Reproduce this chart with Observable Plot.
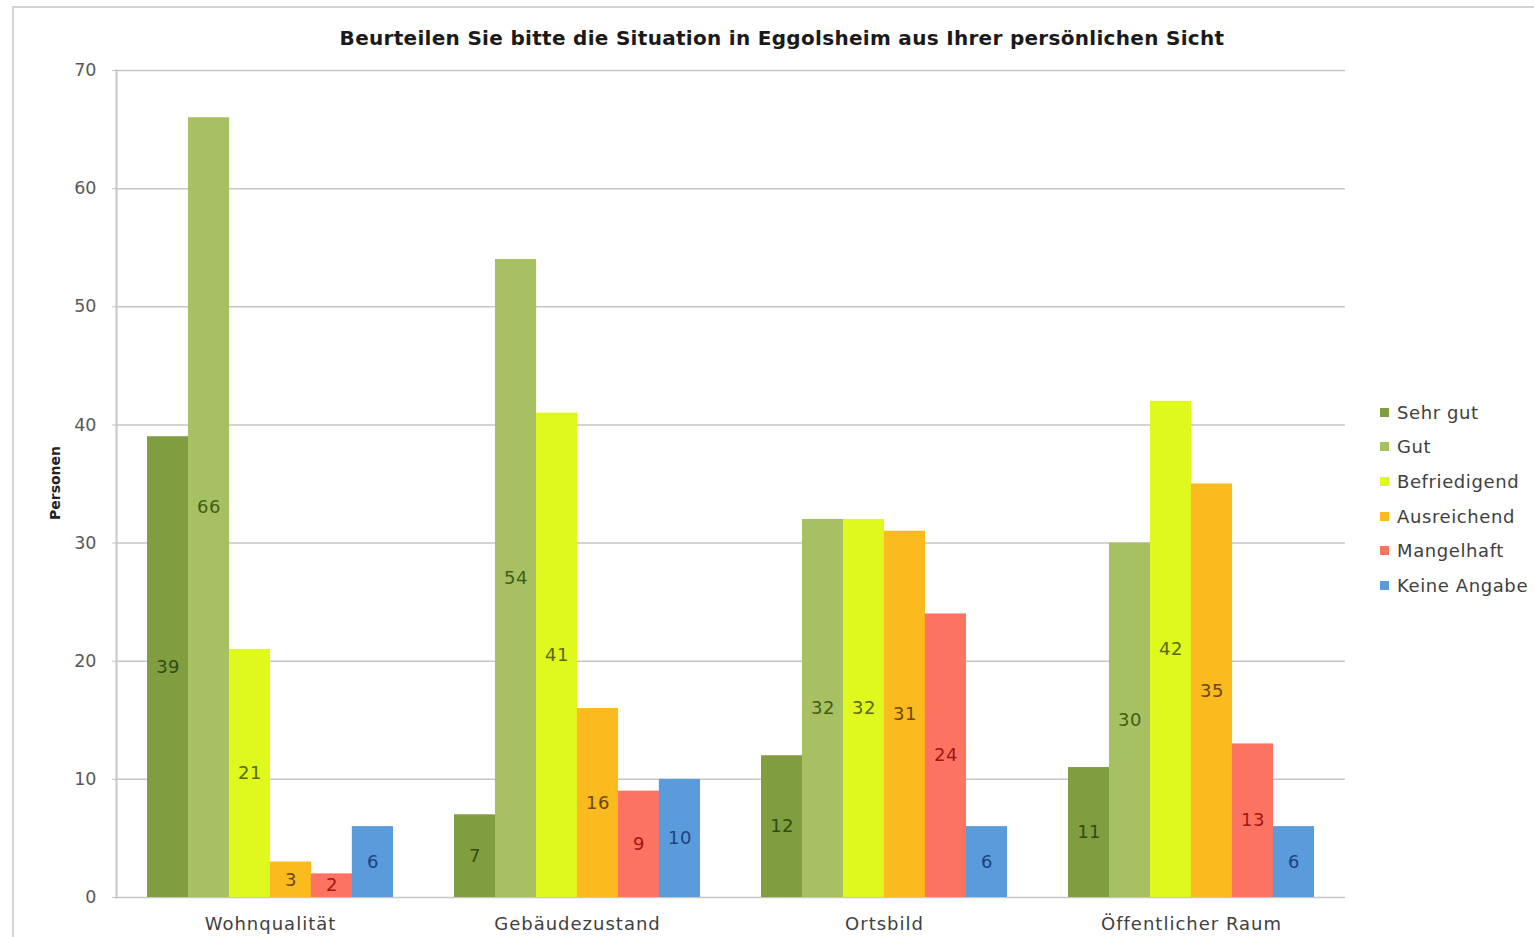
<!DOCTYPE html>
<html>
<head>
<meta charset="utf-8">
<script src="https://cdn.jsdelivr.net/npm/d3@7"></script>
<script src="https://cdn.jsdelivr.net/npm/@observablehq/plot@0.6"></script>
<style>
  html, body { margin: 0; padding: 0; background: #fff; overflow: hidden; }
  #chart { position: relative; width: 1534px; height: 937px; font-family: "DejaVu Sans", sans-serif; }
  #border { position: absolute; left: 12px; top: 6px; width: 1600px; height: 1000px; border: 2px solid #d4d4d4; box-sizing: border-box; }
  #title { position: absolute; top: 26px; left: 782px; transform: translateX(-50%); white-space: nowrap; font-weight: bold; font-size: 20px; letter-spacing: 0.3px; color: #1a1a1a; }
  #ylabel { position: absolute; left: 55px; top: 483px; transform: translate(-50%, -50%) rotate(-90deg); font-size: 14px; font-weight: bold; color: #222; white-space: nowrap; }
  #legend { position: absolute; left: 1380px; top: 395px; }
  .item { display: flex; align-items: center; height: 34.6px; font-size: 18px; letter-spacing: 0.6px; color: #404040; white-space: nowrap; }
  .sw { width: 9px; height: 9px; margin-right: 8px; }
  #plot svg { position: absolute; left: 0; top: 0; }
  #plot g[aria-label="x-axis tick label"] text { letter-spacing: 1px; }
  #plot g[aria-label="text"] text { letter-spacing: 0.5px; }
</style>
</head>
<body>
<div id="chart">
  <div id="border"></div>
  <div id="plot"></div>
  <div id="title">Beurteilen Sie bitte die Situation in Eggolsheim aus Ihrer persönlichen Sicht</div>
  <div id="ylabel">Personen</div>
  <div id="legend"></div>
</div>
<script>
// Survey answers per aspect of the village
const categories = ["Wohnqualität", "Gebäudezustand", "Ortsbild", "Öffentlicher Raum"];
const series = ["Sehr gut", "Gut", "Befriedigend", "Ausreichend", "Mangelhaft", "Keine Angabe"];

const sehrGut      = [39, 7, 12, 11];
const gut          = [66, 54, 32, 30];
const befriedigend = [21, 41, 32, 42];
const ausreichend  = [3, 16, 31, 35];
const mangelhaft   = [2, 9, 24, 13];
const keineAngabe  = [6, 10, 6, 6];

const yTicks = [0, 10, 20, 30, 40, 50, 60, 70];

const barColors   = ["#809d40", "#a6c062", "#dff81e", "#fbba1e", "#fd7362", "#5a9bdb"];
const labelColors = ["#2e4d10", "#3f5e18", "#5b6b00", "#6b4800", "#a31515", "#1c427f"];

const values = [sehrGut, gut, befriedigend, ausreichend, mangelhaft, keineAngabe];

const data = categories.flatMap((category, j) =>
  series.map((s, i) => ({ category, series: s, index: i, value: values[i][j] }))
);

// Layout
const W = 1534, H = 937;
const mL = 116, mR = 189, mT = 70, mB = 40;
const padInner = 0.2, padOuter = 0.1;
const step = (W - mL - mR) / (categories.length - padInner + 2 * padOuter);
const groupWidth = step * (1 - padInner);
const slot = groupWidth / series.length;

const barMarks = series.map((s, i) =>
  Plot.barY(data.filter(d => d.index === i), {
    x: "category",
    y: "value",
    fill: barColors[i],
    insetLeft: i * slot,
    insetRight: (series.length - 1 - i) * slot
  })
);

const labelMarks = series.map((s, i) =>
  Plot.text(data.filter(d => d.index === i), {
    x: "category",
    y: d => d.value / 2,
    text: d => String(d.value),
    dx: (i - (series.length - 1) / 2) * slot,
    fill: labelColors[i],
    fontSize: 18
  })
);

const plot = Plot.plot({
  width: W,
  height: H,
  marginLeft: mL,
  marginRight: mR,
  marginTop: mT,
  marginBottom: mB,
  style: { fontFamily: "'DejaVu Sans', sans-serif", background: "transparent" },
  x: { domain: categories, paddingInner: padInner, paddingOuter: padOuter, label: null },
  y: { domain: [0, 70], label: null },
  marks: [
    Plot.gridY(yTicks, { stroke: "#c6c6c6", strokeOpacity: 1, strokeWidth: 1.5 }),
    Plot.axisY(yTicks, { tickSize: 4, tickPadding: 16, stroke: "#c6c6c6", fill: "#595959", fontSize: 17.5, label: null }),
    Plot.frame({ anchor: "left", stroke: "#c6c6c6", strokeWidth: 2 }),
    Plot.axisX({ tickSize: 0, tickPadding: 20, fill: "#404040", fontSize: 18, label: null }),
    ...barMarks,
    ...labelMarks
  ]
});
document.getElementById("plot").appendChild(plot);

// Legend
const legend = d3.select("#legend");
series.forEach((s, i) => {
  const item = legend.append("div").attr("class", "item");
  item.append("div").attr("class", "sw").style("background", barColors[i]);
  item.append("span").text(s);
});
</script>
</body>
</html>
